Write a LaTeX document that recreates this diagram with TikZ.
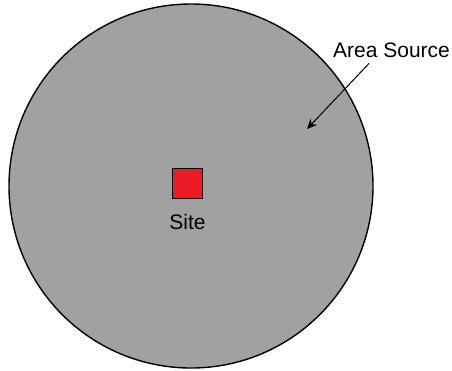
\documentclass[tikz,border=0pt]{standalone}
\usepackage{fontspec}
\setmainfont{Liberation Sans}
\usetikzlibrary{shapes, arrows, calc, positioning,arrows.meta}
\definecolor{xAreaGray}{RGB}{161,161,161}
\definecolor{xSiteRed}{RGB}{237,28,36}

\begin{document}
\begin{tikzpicture}[x=1pt,y=-1pt,
    areabox/.style={circle, draw=black, line width=1.4pt, fill=xAreaGray, minimum size=364pt, inner sep=0pt},
    sitebox/.style={rectangle, draw=black, line width=1.2pt, fill=xSiteRed, minimum size=30pt, inner sep=0pt},
    labeltext/.style={font=\fontsize{21}{25}\selectfont, inner sep=0pt}]
    \useasboundingbox (0,0) rectangle (452,370);

    % the area source and the site in its middle
    \node[areabox] (area) at (191,186) {};
    \node[sitebox] (site) at (187.5,183.5) {};
    \node[labeltext, below=15pt of site] (sitelabel) {Site};

    % label with its arrow
    \node[labeltext, anchor=base west] (arealabel) at (333,57) {Area Source};
    \coordinate (tip) at (307,129);
    \draw[-{Stealth[length=10pt,width=9pt]}, line width=1pt] ($(arealabel.south west)+(36pt,-6pt)$) -- (tip);
\end{tikzpicture}
\end{document}
